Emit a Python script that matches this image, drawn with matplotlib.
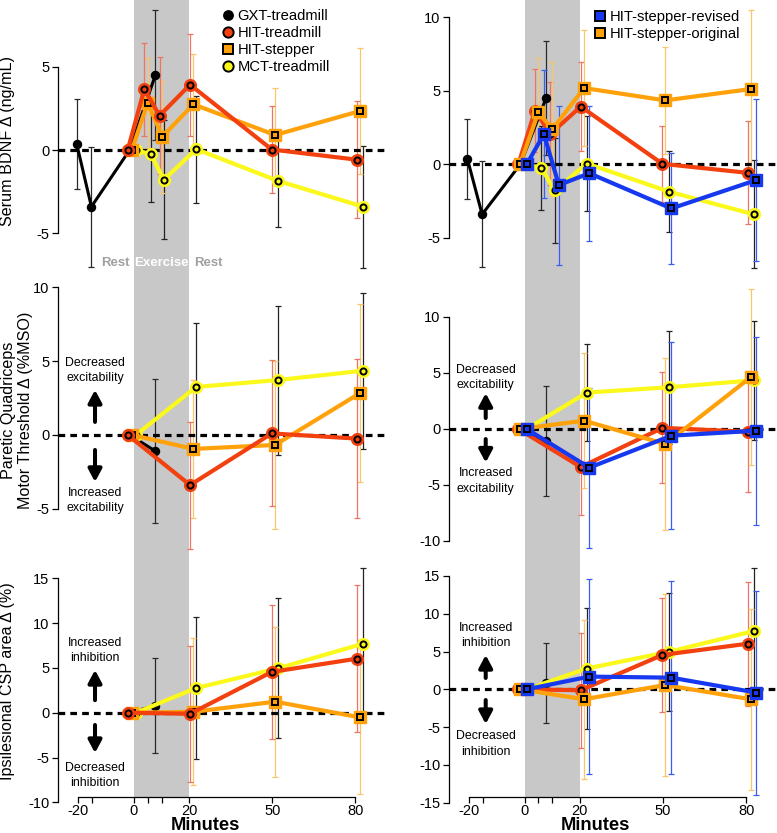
import matplotlib
matplotlib.use('Agg')
import matplotlib.pyplot as plt
from matplotlib.lines import Line2D

plt.rcParams['font.family'] = ['Liberation Sans', 'DejaVu Sans']
plt.rcParams['axes.unicode_minus'] = False

# ---- data (minutes, mean change, SD) ----
# GXT-treadmill
gxt_t_bdnf = [-20.6, -15.3, -1.5, 7.8]
gxt_bdnf = [0.36, -3.4, 0.0, 4.5]
gxt_bdnf_sd = [2.7, 3.6, 0.0, 3.9]
gxt_t = [-1.5, 7.8]
gxt_mt = [0.0, -1.1]
gxt_mt_sd = [0.0, 4.9]
gxt_csp = [0.0, 0.8]
gxt_csp_sd = [0.0, 5.3]

# HIT-treadmill
hit_tm_t_bdnf = [-2.2, 3.8, 9.3, 20.3, 49.8, 80.5]
hit_tm_bdnf = [0.0, 3.65, 2.06, 3.92, 0.03, -0.58]
hit_tm_bdnf_sd = [0.0, 2.8, 3.5, 3.05, 2.6, 3.5]
hit_tm_t = [-2.2, 20.3, 49.8, 80.5]
hit_tm_mt = [0.0, -3.4, 0.1, -0.25]
hit_tm_mt_sd = [0.0, 4.3, 4.95, 5.4]
hit_tm_csp = [0.0, -0.12, 4.55, 6.03]
hit_tm_csp_sd = [0.0, 7.6, 7.5, 8.2]

# HIT-stepper (left column)
hit_st_t_bdnf = [-0.7, 5.0, 10.3, 21.5, 51.0, 81.7]
hit_st_bdnf = [0.0, 2.84, 0.8, 2.74, 0.9, 2.34]
hit_st_bdnf_sd = [0.0, 2.7, 3.36, 3.0, 2.8, 3.76]
hit_st_t = [-0.7, 21.5, 51.0, 81.7]
hit_st_mt = [0.0, -0.95, -0.68, 2.84]
hit_st_mt_sd = [0.0, 4.7, 5.68, 6.0]
hit_st_csp = [0.0, 0.1, 1.23, -0.52]
hit_st_csp_sd = [0.0, 8.2, 8.36, 8.6]

# MCT-treadmill
mct_t_bdnf = [0.8, 6.1, 10.9, 22.5, 52.0, 82.7]
mct_bdnf = [0.0, -0.26, -1.78, 0.05, -1.85, -3.4]
mct_bdnf_sd = [0.0, 2.84, 3.58, 3.2, 2.74, 3.66]
mct_t = [0.8, 22.5, 52.0, 82.7]
mct_mt = [0.0, 3.25, 3.72, 4.35]
mct_mt_sd = [0.0, 4.35, 5.05, 5.3]
mct_csp = [0.0, 2.75, 4.95, 7.7]
mct_csp_sd = [0.0, 7.95, 7.8, 8.4]

# HIT-stepper-original (right column)
orig_t_bdnf = [-1.6, 5.0, 10.1, 21.5, 50.8, 81.6]
orig_bdnf = [0.0, 3.52, 2.39, 5.18, 4.34, 5.11]
orig_bdnf_sd = [0.0, 3.7, 4.56, 3.95, 3.64, 5.4]
orig_t = [-1.6, 21.5, 50.8, 81.6]
orig_mt = [0.0, 0.74, -1.34, 4.61]
orig_mt_sd = [0.0, 6.0, 7.7, 7.86]
orig_csp = [0.0, -1.32, 0.57, -1.32]
orig_csp_sd = [0.0, 10.5, 12.0, 12.0]

# HIT-stepper-revised
rev_t_bdnf = [0.8, 7.0, 12.4, 23.4, 53.0, 83.7]
rev_bdnf = [0.0, 2.05, -1.41, -0.61, -3.0, -1.07]
rev_bdnf_sd = [0.0, 4.34, 5.4, 4.6, 3.8, 5.5]
rev_t = [0.8, 23.4, 53.0, 83.7]
rev_mt = [0.0, -3.45, -0.6, -0.15]
rev_mt_sd = [0.0, 7.15, 8.34, 8.4]
rev_csp = [0.0, 1.68, 1.54, -0.44]
rev_csp_sd = [0.0, 12.9, 12.8, 13.5]

x_ticks = [-20, -15, 0, 5, 10, 20, 50, 80]
x_labels = ['-20', '', '0', '', '', '20', '50', '80']

RED, RED_E = '#f2400f', '#ee7563'
ORANGE, ORANGE_E = '#ffa10a', '#fbc56c'
YELLOW = '#fbf81c'
BLUE, BLUE_E = '#1639f0', '#3a5cf0'
GRAY = '#c8c8c8'

W, H = 777, 833
fig = plt.figure(figsize=(W / 100, H / 100), dpi=100)

XL = (-27.4, 92.0)
PX_PER_MIN = 2.771


def make_axes(x0, y0, y1, ylim):
    w = (XL[1] - XL[0]) * PX_PER_MIN
    ax = fig.add_axes([x0 / W, 1 - y1 / H, w / W, (y1 - y0) / H])
    ax.set_xlim(*XL)
    ax.set_ylim(*ylim)
    ax.patch.set_alpha(0)
    for s in ['top', 'right']:
        ax.spines[s].set_visible(False)
    ax.tick_params(axis='y', length=4, width=0.9, pad=2, labelsize=10.5)
    ax.spines['left'].set_linewidth(0.9)
    ax.axhline(0, color='black', lw=2.3, ls=(0, (2.1, 1.6)), zorder=2.5)
    return ax


def series(ax, t, y, sd, color, ecolor, marker, z):
    ax.errorbar(t, y, yerr=sd, fmt='none', ecolor=ecolor, elinewidth=0.9,
                capsize=2.5, capthick=0.9, zorder=2)
    ax.plot(t, y, color=color, lw=3, marker=marker, ms=8.4, mfc=color,
            mec=color, zorder=z)
    ax.plot(t, y, ls='none', marker=marker, ms=4.4, mfc=color,
            mec='black', mew=1.4, zorder=z + 0.05)


def gxt(ax, t, y, sd):
    ax.errorbar(t, y, yerr=sd, fmt='none', ecolor='#2a2a2a', elinewidth=0.9,
                capsize=2.5, capthick=0.9, zorder=2)
    ax.plot(t, y, color='black', lw=2.2, marker='o', ms=5.8, zorder=3)


def arrows(ax, x, top_txt, top_y, up, down, bot_txt, bot_y):
    kw = dict(ha='center', va='center', fontsize=8.9, linespacing=1.35)
    ax.text(x, top_y, top_txt, **kw)
    ax.text(x, bot_y, bot_txt, **kw)
    ap = dict(arrowstyle='-|>,head_length=0.75,head_width=0.4', lw=2.9,
              color='black', shrinkA=0, shrinkB=0, mutation_scale=10)
    ax.annotate('', xy=(x, up[1]), xytext=(x, up[0]), arrowprops=ap)
    ax.annotate('', xy=(x, down[1]), xytext=(x, down[0]), arrowprops=ap)


LX, RX = 133.8 + XL[0] * PX_PER_MIN, 524.5 + XL[0] * PX_PER_MIN

# ---- rows ----
ax_tl = make_axes(LX, 0, 280, (-7.8, 9.0))
ax_tr = make_axes(RX, 0, 280, (-7.86, 11.16))
ax_ml = make_axes(LX, 280, 555, (-8.14, 10.5))
ax_mr = make_axes(RX, 280, 555, (-11.25, 13.3))
ax_bl = make_axes(LX, 555, 805, (-10.3, 17.6))
ax_br = make_axes(RX, 555, 805, (-15.31, 17.77))

for ax in [ax_tl, ax_tr, ax_ml, ax_mr]:
    ax.spines['bottom'].set_visible(False)
    ax.set_xticks([])
    ax.axvspan(0, 20, color=GRAY, lw=0, zorder=0)

for ax, base in [(ax_bl, -9.4), (ax_br, -14.25)]:
    lo, hi = ax.get_ylim()
    ax.axvspan(0, 20, ymin=(base - lo) / (hi - lo), color=GRAY, lw=0, zorder=0)
    ax.spines['bottom'].set_position(('data', base))
    ax.spines['bottom'].set_bounds(-20, 80)
    ax.spines['bottom'].set_linewidth(0.9)
    ax.set_xticks(x_ticks)
    ax.set_xticklabels(x_labels)
    ax.tick_params(axis='x', length=4, width=0.9, pad=1, labelsize=10.5)

ax_tl.set_yticks([-5, 0, 5]); ax_tl.spines['left'].set_bounds(-5, 5)
ax_tr.set_yticks([-5, 0, 5, 10]); ax_tr.spines['left'].set_bounds(-5, 10)
ax_ml.set_yticks([-5, 0, 5, 10]); ax_ml.spines['left'].set_bounds(-5, 10)
ax_mr.set_yticks([-10, -5, 0, 5, 10]); ax_mr.spines['left'].set_bounds(-10, 10)
ax_bl.set_yticks([-10, -5, 0, 5, 10, 15]); ax_bl.spines['left'].set_bounds(-10, 15)
ax_br.set_yticks([-15, -10, -5, 0, 5, 10, 15]); ax_br.spines['left'].set_bounds(-15, 15)

# ---- left column ----
gxt(ax_tl, gxt_t_bdnf, gxt_bdnf, gxt_bdnf_sd)
series(ax_tl, mct_t_bdnf, mct_bdnf, mct_bdnf_sd, YELLOW, '#222222', 'o', 4)
series(ax_tl, hit_st_t_bdnf, hit_st_bdnf, hit_st_bdnf_sd, ORANGE, ORANGE_E, 's', 5)
series(ax_tl, hit_tm_t_bdnf, hit_tm_bdnf, hit_tm_bdnf_sd, RED, RED_E, 'o', 6)

gxt(ax_ml, gxt_t, gxt_mt, gxt_mt_sd)
series(ax_ml, mct_t, mct_mt, mct_mt_sd, YELLOW, '#222222', 'o', 4)
series(ax_ml, hit_st_t, hit_st_mt, hit_st_mt_sd, ORANGE, ORANGE_E, 's', 5)
series(ax_ml, hit_tm_t, hit_tm_mt, hit_tm_mt_sd, RED, RED_E, 'o', 6)

gxt(ax_bl, gxt_t, gxt_csp, gxt_csp_sd)
series(ax_bl, mct_t, mct_csp, mct_csp_sd, YELLOW, '#222222', 'o', 4)
series(ax_bl, hit_st_t, hit_st_csp, hit_st_csp_sd, ORANGE, ORANGE_E, 's', 5)
series(ax_bl, hit_tm_t, hit_tm_csp, hit_tm_csp_sd, RED, RED_E, 'o', 6)

# ---- right column ----
gxt(ax_tr, gxt_t_bdnf, gxt_bdnf, gxt_bdnf_sd)
series(ax_tr, mct_t_bdnf, mct_bdnf, mct_bdnf_sd, YELLOW, '#222222', 'o', 4)
series(ax_tr, hit_tm_t_bdnf, hit_tm_bdnf, hit_tm_bdnf_sd, RED, RED_E, 'o', 5)
series(ax_tr, orig_t_bdnf, orig_bdnf, orig_bdnf_sd, ORANGE, ORANGE_E, 's', 6)
series(ax_tr, rev_t_bdnf, rev_bdnf, rev_bdnf_sd, BLUE, BLUE_E, 's', 7)

gxt(ax_mr, gxt_t, gxt_mt, gxt_mt_sd)
series(ax_mr, mct_t, mct_mt, mct_mt_sd, YELLOW, '#222222', 'o', 4)
series(ax_mr, hit_tm_t, hit_tm_mt, hit_tm_mt_sd, RED, RED_E, 'o', 5)
series(ax_mr, orig_t, orig_mt, orig_mt_sd, ORANGE, ORANGE_E, 's', 6)
series(ax_mr, rev_t, rev_mt, rev_mt_sd, BLUE, BLUE_E, 's', 7)

gxt(ax_br, gxt_t, gxt_csp, gxt_csp_sd)
series(ax_br, mct_t, mct_csp, mct_csp_sd, YELLOW, '#222222', 'o', 4)
series(ax_br, hit_tm_t, hit_tm_csp, hit_tm_csp_sd, RED, RED_E, 'o', 5)
series(ax_br, orig_t, orig_csp, orig_csp_sd, ORANGE, ORANGE_E, 's', 6)
series(ax_br, rev_t, rev_csp, rev_csp_sd, BLUE, BLUE_E, 's', 7)

# ---- annotations ----
arrows(ax_ml, -14, 'Decreased\nexcitability', 4.34, (0.88, 3.05), (-1.02, -3.19),
       'Increased\nexcitability', -4.47)
arrows(ax_mr, -14, 'Decreased\nexcitability', 4.6, (0.98, 3.2), (-0.9, -3.0),
       'Increased\nexcitability', -4.64)
arrows(ax_bl, -14, 'Increased\ninhibition', 6.9, (1.4, 4.77), (-1.37, -4.5),
       'Decreased\ninhibition', -7.0)
arrows(ax_br, -14, 'Increased\ninhibition', 7.12, (1.5, 4.54), (-1.42, -4.6),
       'Decreased\ninhibition', -7.24)

for x, word, col in [(-6.8, 'Rest', '#a0a0a0'), (10, 'Exercise', 'white'),
                     (26.8, 'Rest', '#a0a0a0')]:
    ax_tl.text(x, -6.77, word, color=col, fontsize=9.5, fontweight='bold',
               ha='center', va='center')

# ---- legends ----
def lm(marker, color, ms=7.4):
    return Line2D([], [], ls='none', marker=marker, ms=ms, mfc=color,
                  mec='black', mew=1.4)

leg1 = ax_tl.legend([lm('o', 'black', 6.4), lm('o', RED), lm('s', ORANGE, 6.8), lm('o', YELLOW)],
                    ['GXT-treadmill', 'HIT-treadmill', 'HIT-stepper', 'MCT-treadmill'],
                    loc='upper left', bbox_to_anchor=(0.499, 0.968), frameon=False,
                    handlelength=0.7, handletextpad=0.3, labelspacing=0.2,
                    borderpad=0, borderaxespad=0, fontsize=10.6)
leg1.set_zorder(10)
leg2 = ax_tr.legend([lm('s', BLUE, 6.8), lm('s', ORANGE, 6.8)],
                    ['HIT-stepper-revised', 'HIT-stepper-original'],
                    loc='upper left', bbox_to_anchor=(0.442, 0.964), frameon=False,
                    handlelength=0.7, handletextpad=0.3, labelspacing=0.2,
                    borderpad=0, borderaxespad=0, fontsize=10.6)
leg2.set_zorder(10)

# ---- axis titles ----
fig.text(8 / W, 1 - 141 / H, 'Serum BDNF Δ (ng/mL)', rotation=90, ha='center',
         va='center', fontsize=11.6)
fig.text(17 / W, 1 - 410 / H, 'Paretic Quadriceps\nMotor Threshold Δ (%MSO)',
         rotation=90, ha='center', va='center', fontsize=11.6, linespacing=1.2,
         multialignment='center')
fig.text(8 / W, 1 - 681 / H, 'Ipsilesional CSP area Δ (%)', rotation=90,
         ha='center', va='center', fontsize=11.6)
fig.text(205 / W, 1 - 826 / H, 'Minutes', ha='center', va='center',
         fontsize=13.2, fontweight='bold')
fig.text(595 / W, 1 - 826 / H, 'Minutes', ha='center', va='center',
         fontsize=13.2, fontweight='bold')

fig.savefig('out.png', dpi=100)
